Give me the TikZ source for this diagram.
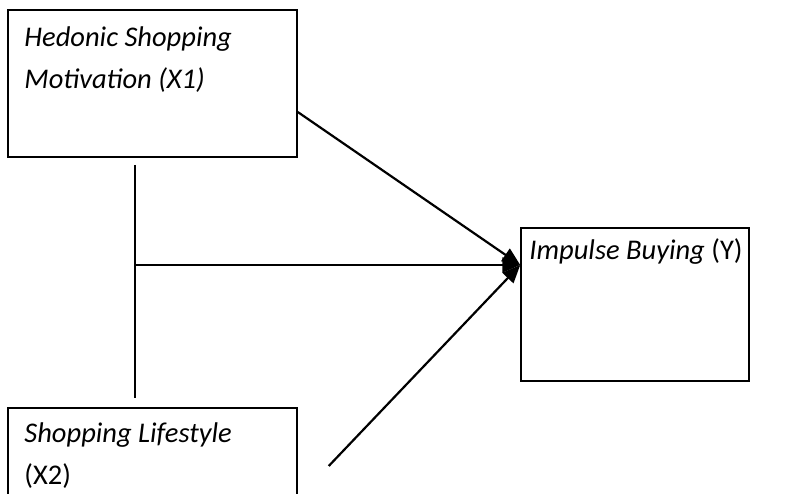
\documentclass[tikz,border=0pt]{standalone}
\usepackage{fontspec}
\setmainfont{Carlito}
\usetikzlibrary{arrows.meta,positioning}

\tikzset{
  box/.style={draw, line width=1.5pt, inner sep=0pt},
  lbl/.style={inner sep=0pt, anchor=north west, align=left, font=\fontsize{28.5}{42}\selectfont},
  link/.style={line width=2.2pt},
  arr/.style={link, -{Triangle[length=18pt,width=15pt]}}
}

\begin{document}
\begin{tikzpicture}[x=1pt,y=-1pt]
    \useasboundingbox (0,0) rectangle (790,494);

    % boxes
    \node [box, minimum width=289pt, minimum height=147pt] (x1) at (152.5,83.5) {};
    \node [box, minimum width=228pt, minimum height=153pt] (y) at (635,304.5) {};
    \node [box, minimum width=289pt, minimum height=112pt] (x2) at (152.5,464) {};

    % texts
    \node [lbl] (x1txt) at ([xshift=17pt,yshift=-17pt]x1.north west) {\textit{Hedonic Shopping}\\\textit{Motivation (X1)}};
    \node [lbl] (ytxt) at ([xshift=9pt,yshift=-11pt]y.north west) {\textit{Impulse Buying} (Y)};
    \node [lbl] (x2txt) at ([xshift=17pt,yshift=-15pt]x2.north west) {\textit{Shopping Lifestyle}\\(X2)};

    % connectors
    \coordinate (tip) at ([yshift=39.5pt]y.west);
    \coordinate (vtop) at (135,165);
    \coordinate (vbot) at (135,398);
    \coordinate (vmid) at (vtop |- tip);

    \draw [link] (vtop) -- (vbot);
    \draw [arr] (vmid) -- (tip);
    \draw [arr] ([yshift=-28.5pt]x1.east) -- (tip);
    \draw [arr] ([xshift=31pt,yshift=-2pt]x2.east) -- (tip);
\end{tikzpicture}
\end{document}
